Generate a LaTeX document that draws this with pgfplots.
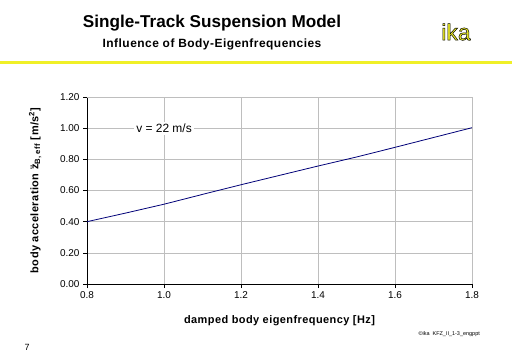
\documentclass[border=0pt]{standalone}
\usepackage{fontspec}
\setmainfont{Liberation Sans}
\newfontfamily\spaced[LetterSpace=4]{Liberation Sans}
\usepackage{pgfplots}
\pgfplotsset{compat=1.18}
\definecolor{ikayellow}{RGB}{240,240,40}
\definecolor{gridgray}{RGB}{190,190,190}
\definecolor{linenavy}{RGB}{0,0,120}
\begin{document}
\begin{tikzpicture}[x=1bp,y=1bp]
\path[use as bounding box, fill=white] (0,0) rectangle (512,354);
\node[font=\fontsize{17.2}{20}\selectfont\bfseries] at (212,331) {Single-Track Suspension Model};
\node[font=\fontsize{12}{14}\selectfont\spaced\bfseries] at (212,310) {Influence of Body-Eigenfrequencies};
\node[font=\fontsize{23}{25}\selectfont, text=ikayellow] at (456,322) {\special{pdf:literal 0 0 0 RG 0.5 w 2 Tr}ika\special{pdf:literal 0 Tr}};
\draw[ikayellow, line width=3bp] (0,291.3) -- (512,291.3);
\node[font=\fontsize{9}{10}\selectfont] at (27,7) {7};
\node[font=\fontsize{5.5}{6}\selectfont, anchor=west] at (415,20) {©ika \ KFZ\_II\_1-3\_engppt};
\begin{axis}[
  at={(87bp,70bp)}, anchor=south west,
  width=385bp, height=187bp, scale only axis,
  xmin=0.8, xmax=1.8, ymin=0, ymax=1.2,
  xtick={0.8,1.0,...,1.8}, ytick={0,0.2,...,1.2},
  grid=major, grid style={gridgray, line width=0.6pt},
  axis line style={gridgray},
  separate axis lines,
  axis x line*=bottom, axis y line*=left,
  x axis line style={black, -}, y axis line style={black, -},
  tick style={black, line width=0.6pt},
  tick align=outside, major tick length=4bp,
  tick label style={font=\fontsize{10}{12}\selectfont},
  /pgf/number format/assume math mode=true,
  xticklabel style={/pgf/number format/.cd, fixed, fixed zerofill, precision=1},
  yticklabel style={/pgf/number format/.cd, fixed, fixed zerofill, precision=2},
  xlabel={\spaced\bfseries damped body eigenfrequency [Hz]},
  ylabel={\spaced\bfseries body acceleration \"{z}\textsubscript{B, eff} [m/s\textsuperscript{2}]},
  xlabel style={font=\fontsize{11}{13}\selectfont, yshift=-10bp},
  ylabel style={font=\fontsize{11}{13}\selectfont, yshift=12bp},
  clip=false,
]
\draw[gridgray, line width=0.6pt] (rel axis cs:0,1) -- (rel axis cs:1,1) -- (rel axis cs:1,0);
\addplot[linenavy, line width=0.8pt, mark=none] coordinates {
(0.8,0.400) (0.9,0.455) (1.0,0.512) (1.1,0.575) (1.2,0.637) (1.3,0.697)
(1.4,0.757) (1.5,0.815) (1.6,0.877) (1.7,0.940) (1.8,1.003)
};
\node[fill=white, font=\fontsize{12}{14}\selectfont, inner sep=2bp] at (axis cs:1.0,1.0) {v = 22 m/s};
\end{axis}
\end{tikzpicture}
\end{document}
